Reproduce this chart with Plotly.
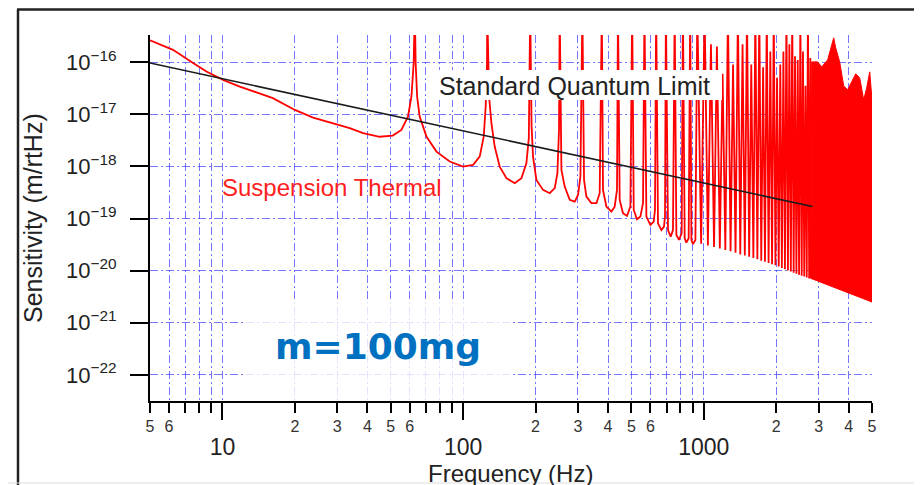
import plotly.graph_objects as go
import math

# ---------------- data ----------------
# Standard Quantum Limit
sql_freq = [5, 2830]
sql_val = [9.6e-17, 1.7e-19]

# Suspension thermal noise: low-frequency part and first violin modes (peaks off scale = 1e-15)
thermal_freq = [5.0, 6.23, 7.55, 8.58, 10.06, 11.8, 16.2, 20.0, 23.8, 28.0, 33.8, 38.4, 45.0, 51.0, 55.4, 59.0, 61.0, 62.3,
                63, 63.5, 64.4, 66.0, 70.4, 77.5, 88.0, 99.9, 110, 117.2, 121.8, 124.1, 125.7,
                126, 128.2, 131.1, 135.3, 141.9, 151.3, 163.8, 174.7, 183.2, 187.5,
                190, 192.5, 195.2, 201.6, 214.8, 229.0, 240.3, 246.5, 250.3,
                252, 256.1, 264.3, 277.3, 290.9, 300.3, 307.2,
                313, 318, 325.2, 341.2, 358.0, 369.4,
                377, 381.3, 393.8, 413.1, 426.4, 435.9,
                440, 447.3, 461.6, 479.6, 495.5,
                504, 511.6, 527.9, 545.4, 559.1,
                567, 577.5, 600.0, 619.3, 627,
                634, 645.3, 666.6, 683.4, 690,
                696, 710.1, 728.6, 744.7,
                757, 769.4, 788.8, 809.4,
                819, 833.0, 846.6, 865.5,
                878, 888.2, 902.0, 923,
                940]
thermal_val = [2.62e-16, 1.72e-16, 9.6e-17, 6.6e-17, 4.57e-17, 3.4e-17, 2.04e-17, 1.21e-17, 8.6e-18, 6.9e-18, 5.4e-18,
               4.34e-18, 3.7e-18, 3.9e-18, 5.0e-18, 9.0e-18, 2.19e-17, 9.6e-17,
               1e-15, 9.6e-17, 2.19e-17, 9.0e-18, 3.73e-18, 1.92e-18, 1.24e-18, 9.9e-19, 1.07e-18, 1.54e-18, 3.73e-18, 1.41e-17, 9.6e-17,
               1e-15, 2.19e-17, 6.75e-18, 2.4e-18, 9.9e-19, 5.94e-19, 4.76e-19, 5.94e-19, 1.15e-18, 3.5e-18,
               1e-15, 6e-18, 1.54e-18, 5.5e-19, 3.54e-19, 3.06e-19, 3.82e-19, 7.4e-19, 5.0e-18,
               1e-15, 8.6e-19, 4.1e-19, 2.28e-19, 2.11e-19, 2.84e-19, 6.4e-19,
               1e-15, 5.5e-19, 2.63e-19, 1.97e-19, 1.97e-19, 3.06e-19,
               1e-15, 3.54e-19, 1.69e-19, 1.36e-19, 1.69e-19, 3.54e-19,
               1e-15, 2.28e-19, 1.26e-19, 1.12e-19, 1.69e-19,
               1e-15, 1.46e-19, 9.7e-20, 1.09e-19, 1.97e-19,
               1e-15, 1.09e-19, 7.5e-20, 8.7e-20, 1.46e-19,
               1e-15, 8.1e-20, 6.0e-20, 7.0e-20, 1.09e-19,
               1e-15, 6.0e-20, 4.5e-20, 6.0e-20,
               1e-15, 4.84e-20, 3.88e-20, 5.2e-20,
               1e-15, 4.19e-20, 3.45e-20, 4.19e-20,
               1e-15, 3.88e-20, 3.25e-20, 3.88e-20,
               1e-15]

# Violin-mode comb 1 - 2.8 kHz: troughs and peaks
comb_trough_freq = [975, 1040, 1103, 1166, 1229, 1292, 1355, 1418, 1481, 1544, 1607, 1670, 1733, 1796, 1859,
                    1922, 1985, 2048, 2111, 2174, 2237, 2300, 2363, 2426, 2489, 2552, 2615, 2678, 2741]
comb_trough_val = [3.3e-20, 3.05e-20, 2.85e-20, 2.65e-20, 2.5e-20, 2.35e-20, 2.2e-20, 2.05e-20, 1.95e-20, 1.85e-20,
                   1.75e-20, 1.65e-20, 1.55e-20, 1.48e-20, 1.4e-20, 1.33e-20, 1.27e-20, 1.2e-20, 1.13e-20, 1.07e-20,
                   1.01e-20, 9.6e-21, 9.1e-21, 8.7e-21, 8.3e-21, 8.0e-21, 7.7e-21, 7.4e-21, 7.1e-21]
comb_peak_freq = [1008, 1071, 1134, 1197, 1260, 1323, 1386, 1449, 1512, 1575, 1638, 1701, 1764, 1827, 1890,
                  1953, 2016, 2079, 2142, 2205, 2268, 2331, 2394, 2457, 2520, 2583, 2646, 2709, 2772]
comb_peak_val = [1e-15, 2.2e-16, 2.0e-16, 6e-17, 1e-15, 9e-17, 1e-15, 2.2e-16, 1e-15, 9e-17, 1e-15, 1e-15, 8e-17,
                 1e-15, 1.6e-16, 1e-15, 5e-17, 9e-17, 1.6e-16, 1e-15, 2.2e-16, 1e-15, 1.3e-16, 1.1e-16, 1e-15,
                 1.6e-16, 3.5e-17, 1e-15, 1.2e-16]

# Dense region 2.8 - 5 kHz: upper edge of the merged peaks and lower envelope
dense_top_freq = [2790, 2807, 2974, 3090, 3272, 3400, 3466, 3533, 3670, 3814, 3962, 4117, 4278, 4444, 4618, 4753, 4892, 5000]
dense_top_val = [7.1e-21, 1.01e-16, 1.01e-16, 8.1e-17, 1.11e-16, 2.15e-16, 2.92e-16, 1.88e-16, 1.01e-16, 3.5e-17,
                 2.94e-17, 4.19e-17, 5.96e-17, 5.0e-17, 1.89e-17, 3.2e-17, 6.5e-17, 1.89e-17]
dense_bottom_freq = [5000, 2790]
dense_bottom_val = [2.5e-21, 7.1e-21]

# Tick values / labels
y_tick_vals = [1e-22, 1e-21, 1e-20, 1e-19, 1e-18, 1e-17, 1e-16]
y_tick_text = ["10<sup>\u221222</sup>", "10<sup>\u221221</sup>", "10<sup>\u221220</sup>", "10<sup>\u221219</sup>",
               "10<sup>\u221218</sup>", "10<sup>\u221217</sup>", "10<sup>\u221216</sup>"]
x_minor_vals = [5, 6, 7, 8, 9, 10, 20, 30, 40, 50, 60, 70, 80, 90, 100,
                200, 300, 400, 500, 600, 700, 800, 900, 1000, 2000, 3000, 4000, 5000]
x_minor_text = ["5", "6", "", "", "", "", "2", "3", "4", "5", "6", "", "", "", "",
                "2", "3", "4", "5", "6", "", "", "", "", "2", "3", "4", "5"]
x_major_vals = [10, 100, 1000]
x_major_text = ["10", "100", "1000"]

# ---------------- figure ----------------
assert len(thermal_freq) == len(thermal_val)
red_x = list(thermal_freq)
red_y = list(thermal_val)
for tf, tv, pf, pv in zip(comb_trough_freq, comb_trough_val, comb_peak_freq, comb_peak_val):
    red_x += [tf, pf]
    red_y += [tv, pv]
red_x.append(dense_top_freq[0])
red_y.append(dense_top_val[0])

RED = "#FF0000"
fig = go.Figure()
fig.add_trace(go.Scatter(x=red_x, y=red_y, mode="lines", line=dict(color=RED, width=1.8),
                         hoverinfo="skip", showlegend=False))
fig.add_trace(go.Scatter(x=dense_top_freq + dense_bottom_freq, y=dense_top_val + dense_bottom_val,
                         mode="lines", fill="toself", fillcolor=RED, line=dict(color=RED, width=1),
                         hoverinfo="skip", showlegend=False))
fig.add_trace(go.Scatter(x=sql_freq, y=sql_val, mode="lines", line=dict(color="#1a1a1a", width=1.6),
                         hoverinfo="skip", showlegend=False))
# carrier for the secondary (major-label) x axis
fig.add_trace(go.Scatter(x=sql_freq, y=sql_val, xaxis="x2", mode="lines", line=dict(width=0),
                         opacity=0, hoverinfo="skip", showlegend=False))

xr = [math.log10(5), math.log10(5000)]
yr = [-22.5, -15.48]
GRID = "rgba(70,70,255,0.75)"
DASH = "8px,3px,2px,3px"
FONT = "Liberation Sans, Arial, sans-serif"

# The page places the figure 8 px from the window's top-left corner.
fig.update_layout(
    template="none",
    width=914, height=477,
    margin=dict(l=142, r=50, t=27, b=84, autoexpand=False),
    paper_bgcolor="white", plot_bgcolor="white",
    showlegend=False,
    font=dict(family=FONT, color="#222"),
    xaxis=dict(type="log", range=xr, tickmode="array", tickvals=x_minor_vals, ticktext=x_minor_text,
               ticks="outside", ticklen=10, tickwidth=2, tickcolor="black", automargin=False,
               tickfont=dict(size=16, color="#333", family=FONT), ticklabelstandoff=0,
               showgrid=True, gridcolor=GRID, gridwidth=1, griddash=DASH,
               showline=True, linecolor="black", linewidth=2, mirror=False, zeroline=False),
    xaxis2=dict(type="log", range=xr, overlaying="x", anchor="y", side="bottom", automargin=False,
                tickmode="array", tickvals=x_major_vals, ticktext=x_major_text,
                ticks="outside", ticklen=18, tickwidth=2, tickcolor="black",
                tickfont=dict(size=23, color="#222", family=FONT), ticklabelstandoff=7,
                showgrid=False, showline=False, zeroline=False),
    yaxis=dict(type="log", range=yr, tickmode="array", tickvals=y_tick_vals, ticktext=y_tick_text,
               ticks="outside", ticklen=18, tickwidth=2, tickcolor="black", automargin=False,
               tickfont=dict(size=22, color="#222", family=FONT), ticklabelstandoff=9,
               showgrid=True, gridcolor=GRID, gridwidth=1, griddash=DASH,
               showline=True, linecolor="black", linewidth=2, mirror=False, zeroline=False),
)

# helpers: window pixel -> paper fraction (plot area spans x 150..872, y 35..401 in the window)
def px(xp):
    return (xp - 150) / 722.0

def py(yp):
    return (401 - yp) / 366.0

shapes = [
    # Standard Quantum Limit label box
    dict(type="rect", xref="paper", yref="paper", x0=px(427), x1=px(722), y0=py(100), y1=py(70),
         fillcolor="white", line=dict(width=0), layer="above"),
    # m=100mg label box (translucent)
    dict(type="rect", xref="paper", yref="paper", x0=px(246), x1=px(513), y0=py(400), y1=py(300),
         fillcolor="rgba(255,255,255,0.8)", line=dict(width=0), layer="above"),
    # outer frame
    dict(type="line", xref="paper", yref="paper", x0=px(18), x1=px(18), y0=py(490), y1=py(9.5),
         line=dict(color="#222", width=2.5), layer="above"),
    dict(type="line", xref="paper", yref="paper", x0=px(17), x1=px(930), y0=py(9.5), y1=py(9.5),
         line=dict(color="#222", width=2.5), layer="above"),
    dict(type="line", xref="paper", yref="paper", x0=px(8), x1=px(930), y0=py(483), y1=py(483),
         line=dict(color="#ddd", width=1), layer="above"),
]
fig.update_layout(shapes=shapes)

annotations = [
    dict(text="Standard Quantum Limit", xref="paper", yref="paper", x=px(437), y=py(86),
         xanchor="left", yanchor="middle", showarrow=False, font=dict(size=25, color="#222", family=FONT)),
    dict(text="Suspension Thermal", xref="paper", yref="paper", x=px(332), y=py(187),
         xanchor="center", yanchor="middle", showarrow=False, font=dict(size=24, color="#FF2020", family=FONT)),
    dict(text="<b>m=100mg</b>", xref="paper", yref="paper", x=px(378), y=py(346),
         xanchor="center", yanchor="middle", showarrow=False,
         font=dict(size=36, color="#0070C0", family="DejaVu Sans, sans-serif")),
    dict(text="Frequency (Hz)", xref="paper", yref="paper", x=px(510), y=py(474),
         xanchor="center", yanchor="middle", showarrow=False, font=dict(size=24, color="#222", family=FONT)),
    dict(text="Sensitivity (m/rtHz)", xref="paper", yref="paper", x=px(33), y=py(218),
         xanchor="center", yanchor="middle", textangle=-90, showarrow=False,
         font=dict(size=25, color="#222", family=FONT)),
]
fig.update_layout(annotations=annotations)

fig.write_html("out.html")
